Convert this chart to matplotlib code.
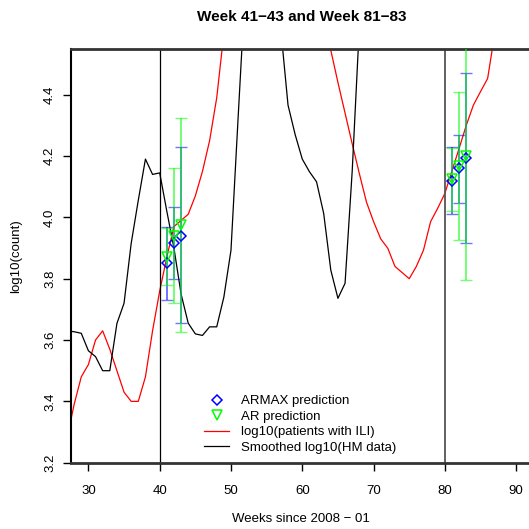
import numpy as np
import matplotlib.pyplot as plt

plt.rcParams['font.family'] = ['Liberation Sans', 'DejaVu Sans']

# log10(patients with ILI), weekly, weeks 27..92
weeks_ili = np.arange(27, 93)
ili = [3.28, 3.39, 3.48, 3.52, 3.60, 3.63, 3.57, 3.50, 3.43, 3.40,   # 27-36
       3.40, 3.48, 3.63, 3.76, 3.87, 3.97, 3.99, 4.01, 4.07, 4.15,   # 37-46
       4.25, 4.39, 4.60, 4.80, 4.90, 4.95, 5.00, 5.00, 4.98, 4.95,   # 47-56
       4.90, 4.85, 4.80, 4.75, 4.70, 4.66, 4.62, 4.545, 4.44, 4.34,  # 57-66
       4.24, 4.143, 4.05, 3.986, 3.93, 3.899, 3.84, 3.82, 3.80, 3.84,  # 67-76
       3.893, 3.986, 4.03, 4.078, 4.152, 4.225, 4.30, 4.366, 4.41, 4.453,  # 77-86
       4.60, 4.75, 4.85, 4.90, 4.95, 5.00]                          # 87-92

# smoothed log10(HM data), weekly, weeks 27..92
weeks_hm = np.arange(27, 93)
hm = [3.63, 3.627, 3.622, 3.565, 3.546, 3.50, 3.50, 3.654, 3.72, 3.915,   # 27-36
      4.056, 4.19, 4.14, 4.145, 4.02, 3.90, 3.75, 3.655, 3.62, 3.615,      # 37-46
      3.643, 3.643, 3.74, 3.893, 4.325, 4.75, 4.95, 5.00, 5.00, 4.85,      # 47-56
      4.61, 4.366, 4.27, 4.19, 4.149, 4.116, 4.013, 3.828, 3.736, 3.785,   # 57-66
      4.15, 4.62, 4.85, 4.95, 5.00, 5.00, 5.00, 5.00, 5.00, 5.00,          # 67-76
      5.00, 5.00, 5.00, 5.00, 5.00, 5.00, 5.00, 5.00, 5.00, 5.00,          # 77-86
      5.00, 5.00, 5.00, 5.00, 5.00, 5.00]                                  # 87-92

# predictions with intervals
pred_weeks = [41, 42, 43, 81, 82, 83]
armax = [3.85, 3.915, 3.94, 4.12, 4.162, 4.192]
armax_lo = [3.73, 3.80, 3.655, 4.01, 4.047, 3.915]
armax_hi = [3.97, 4.035, 4.23, 4.23, 4.27, 4.47]
ar = [3.87, 3.94, 3.975, 4.125, 4.167, 4.20]
ar_lo = [3.78, 3.72, 3.625, 4.02, 3.925, 3.797]
ar_hi = [3.965, 4.16, 4.325, 4.225, 4.41, 4.603]

fig = plt.figure(figsize=(5.29, 5.29), dpi=100)
ax = fig.add_axes([71/529, 1-462.7/529, 1-71/529, (462.7-49.3)/529])

ax.plot(weeks_ili, ili, color='red', lw=0.9, label='log10(patients with ILI)', zorder=2)
ax.plot(weeks_hm, hm, color='black', lw=0.9, label='Smoothed log10(HM data)', zorder=2)
ax.axvline(40, color='black', lw=0.9)
ax.axvline(80, color='#555555', lw=1.3)

a = np.array(armax)
r = np.array(ar)
ax.errorbar(pred_weeks, a, yerr=[a - np.array(armax_lo), np.array(armax_hi) - a],
            fmt='none', ecolor='blue', elinewidth=1.4, capsize=4, alpha=0.55, zorder=3)
ax.errorbar(pred_weeks, r, yerr=[r - np.array(ar_lo), np.array(ar_hi) - r],
            fmt='none', ecolor='#00ff00', elinewidth=1.4, capsize=4, alpha=0.55, zorder=3)
ax.plot(pred_weeks, armax, 'D', ms=5, mfc='none', mec='blue', mew=1.1,
        label='ARMAX prediction', zorder=4)
ax.plot(pred_weeks, ar, 'v', ms=6.5, mfc='none', mec='#00ff00', mew=1.1,
        label='AR prediction', zorder=4)

ax.set_xlim(27.56, 91.8)
ax.set_ylim(3.2, 4.548)
ax.set_xticks([30, 40, 50, 60, 70, 80, 90])
ax.set_yticks([3.2, 3.4, 3.6, 3.8, 4.0, 4.2, 4.4])
ax.set_yticklabels(['3.2', '3.4', '3.6', '3.8', '4.0', '4.2', '4.4'],
                   rotation=90, va='center')
ax.tick_params(direction='out', length=5.7, width=1, labelsize=9.5)
ax.tick_params(axis='x', pad=10)
ax.tick_params(axis='y', pad=5)

ax.spines['right'].set_visible(False)
ax.spines['top'].set_color('#333333')
ax.spines['top'].set_linewidth(2)
ax.spines['bottom'].set_color('#333333')
ax.spines['bottom'].set_linewidth(2)
ax.spines['left'].set_linewidth(1.5)

h, l = ax.get_legend_handles_labels()
order = [2, 3, 0, 1]
ax.legend([h[i] for i in order], [l[i] for i in order], loc='upper left',
          bbox_to_anchor=(204.3/529, 1-395/529), bbox_transform=fig.transFigure,
          frameon=False, fontsize=9.5, borderpad=0, borderaxespad=0,
          handlelength=1.9, handletextpad=0.88, labelspacing=0.25)

fig.text(302/529, 1-17/529, 'Week 41\u221243 and Week 81\u221283', ha='center',
         va='center', fontsize=11, fontweight='bold')
fig.text(301/529, 1-518.5/529, 'Weeks since 2008 \u2212 01', ha='center',
         va='center', fontsize=9.5)
fig.text(16.5/529, 1-256/529, 'log10(count)', ha='center', va='center',
         rotation=90, fontsize=9.5)

fig.savefig('out.png', dpi=100)
